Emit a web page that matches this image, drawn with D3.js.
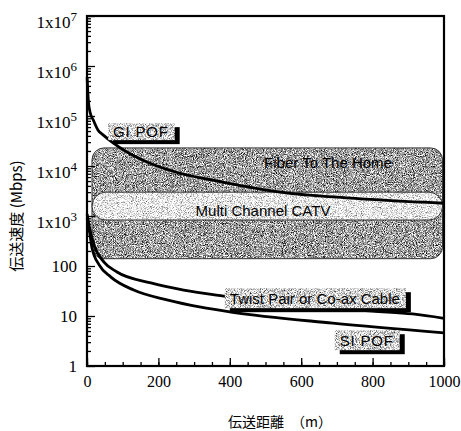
<!DOCTYPE html>
<html><head><meta charset="utf-8">
<script src="https://cdn.jsdelivr.net/npm/d3@7"></script>
<style>
body{margin:0;background:#fff;}
svg{display:block;}
</style></head><body>
<svg id="chart"></svg>
<script>
////////////////////////////
//  values
////////////////////////////
const distanceTicks = [0, 200, 400, 600, 800, 1000];
const speedTicks = [1, 10, 100, 1e3, 1e4, 1e5, 1e6, 1e7];
const speedTickBase = ["1", "10", "100", "1x10", "1x10", "1x10", "1x10", "1x10"];
const speedTickExp = ["", "", "", "3", "4", "5", "6", "7"];

const giPofDist  = [0.3, 3.6, 8.4, 17.6, 31, 45, 73, 112, 168, 250, 352, 540, 727, 1000];
const giPofSpeed = [6e5, 2.1e5, 1.2e5, 8.3e4, 5.2e4, 4.2e4, 2.9e4, 1.9e4, 1.2e4, 7.5e3, 5.2e3, 3.0e3, 2.3e3, 1.8e3];
const twistDist  = [0.3, 5.6, 19.6, 47.6, 84, 179, 271, 383, 600, 800, 912, 1000];
const twistSpeed = [1100, 660, 263, 120, 76, 46, 33, 25, 16.5, 12.5, 11, 9];
const siPofDist  = [0.3, 5.6, 14, 34, 67, 131, 224, 319, 403, 688, 1000];
const siPofSpeed = [900, 575, 229, 105, 60, 33, 21, 15, 12, 7.2, 4.6];

const curveNames = ["GI POF", "Twist Pair or Co-ax Cable", "SI POF"];

const bandNames = ["Fiber To The Home", "Multi Channel CATV"];
const bandFrom = [14, 14];
const bandTo = [996, 996];
const bandLow = [140, 830];
const bandHigh = [23000, 3000];

///////////////////
// layout
///////////////////
var width = 461, height = 431;
var x = d3.scaleLinear().domain([0, 1000]).range([87, 444]);
var y = d3.scaleLog().domain([1, 1e7]).range([366, 16]);
var SERIF = "'Liberation Serif'";
var SANS = "'Liberation Sans'";
var CJK = "'Noto Sans CJK JP'";

var svg = d3.select('#chart')
  .attr('width', width)
  .attr('height', height);

var defs = svg.append('defs');
function grain(id, slope, intercept, freq, seed) {
  var f = defs.append('filter')
    .attr('id', id)
    .attr('x', 0).attr('y', 0).attr('width', 1).attr('height', 1)
    .attr('color-interpolation-filters', 'sRGB');
  f.append('feTurbulence')
    .attr('type', 'fractalNoise')
    .attr('baseFrequency', freq)
    .attr('numOctaves', 3)
    .attr('seed', seed)
    .attr('result', 'n');
  var v = `${slope} 0 0 0 ${intercept} `;
  f.append('feColorMatrix')
    .attr('in', 'n')
    .attr('type', 'matrix')
    .attr('values', v + v + v + '0 0 0 0 1')
    .attr('result', 'g');
  f.append('feComposite')
    .attr('in', 'g').attr('in2', 'SourceGraphic').attr('operator', 'in');
}
grain('grainDark', 2.0, -0.38, 1.1, 4);
grain('grainLight', 1.5, 0.17, 1.2, 7);
grain('grainLabel', 1.7, -0.02, 1.2, 11);

//// bands (application requirements)
var bandStyle = [
  {filter: 'url(#grainDark)', rx: 12},
  {filter: 'url(#grainLight)', rx: null}
];
var bands = svg.append('g').selectAll('g.band')
  .data(bandNames.map((n, i) => ({name: n, from: bandFrom[i], to: bandTo[i], low: bandLow[i], high: bandHigh[i], i: i})))
  .enter().append('g').classed('band', true);

bands.each(function(d) {
  var g = d3.select(this);
  var bx = x(d.from), bw = x(d.to) - x(d.from);
  var by = y(d.high), bh = y(d.low) - y(d.high);
  var rx = bandStyle[d.i].rx === null ? bh / 2 : bandStyle[d.i].rx;
  g.append('rect')
    .attr('x', bx).attr('y', by).attr('width', bw).attr('height', bh)
    .attr('rx', rx).attr('fill', '#888')
    .attr('filter', bandStyle[d.i].filter);
  g.append('rect')
    .attr('x', bx).attr('y', by).attr('width', bw).attr('height', bh)
    .attr('rx', rx).attr('fill', 'none')
    .attr('stroke', '#333').attr('stroke-width', 1);
});

svg.append('text')
  .attr('x', 328).attr('y', 168)
  .attr('text-anchor', 'middle')
  .style('font-family', SANS).style('font-size', '15px')
  .text(bandNames[0]);
svg.append('text')
  .attr('x', 263).attr('y', 216)
  .attr('text-anchor', 'middle')
  .style('font-family', SANS).style('font-size', '15px')
  .text(bandNames[1]);

//// curves
var line = d3.line()
  .x(d => x(d[0]))
  .y(d => y(d[1]))
  .curve(d3.curveMonotoneX);

var series = [
  d3.zip(giPofDist, giPofSpeed),
  d3.zip(twistDist, twistSpeed),
  d3.zip(siPofDist, siPofSpeed)
];
svg.append('g').selectAll('path')
  .data(series)
  .enter().append('path')
    .attr('d', line)
    .attr('fill', 'none')
    .attr('stroke', '#000')
    .attr('stroke-width', 2.8);

//// axes
var xAxis = svg.append('g').attr('transform', 'translate(0,366)');
xAxis.call(d3.axisBottom(x).tickValues(d3.range(0, 1001, 50)).tickSize(-4).tickFormat(''));
xAxis.append('g').call(d3.axisBottom(x).tickValues(distanceTicks).tickSize(-8).tickPadding(10).tickFormat(d3.format('d')));
xAxis.selectAll('.domain').remove();
xAxis.selectAll('text')
  .style('font-family', SERIF)
  .style('font-size', '16px').attr('fill', '#000');
xAxis.selectAll('line').attr('stroke', '#000').attr('stroke-width', 1.3);

var minor = [];
d3.range(0, 7).forEach(k => d3.range(2, 10).forEach(m => minor.push(m * Math.pow(10, k))));
var yAxis = svg.append('g').attr('transform', 'translate(87,0)');
yAxis.call(d3.axisLeft(y).tickValues(minor).tickSize(-4).tickFormat(''));
var yMajor = yAxis.append('g').call(d3.axisLeft(y).tickValues(speedTicks).tickSize(-8).tickPadding(10).tickFormat(''));
yAxis.selectAll('.domain').remove();
yAxis.selectAll('line').attr('stroke', '#000').attr('stroke-width', 1.3);
yMajor.selectAll('.tick text')
  .style('font-family', SERIF)
  .style('font-size', '17px').attr('fill', '#000')
  .attr('dy', (d, i) => speedTickExp[i] ? '0.7em' : '0.32em')
  .each(function(d, i) {
    var t = d3.select(this);
    t.append('tspan').text(speedTickBase[i]);
    if (speedTickExp[i]) {
      t.append('tspan').attr('dy', -7).style('font-size', '13px').text(speedTickExp[i]);
    }
  });

//// frame
svg.append('rect')
  .attr('x', x(0)).attr('y', y(1e7))
  .attr('width', x(1000) - x(0)).attr('height', y(1) - y(1e7))
  .attr('fill', 'none').attr('stroke', '#000').attr('stroke-width', 2.2);

//// curve labels
var labelAt = [[59, 7.2e4, 17], [386, 36, 20], [694, 5.2, 20]];
labelAt.forEach(function(p, i) {
  var g = svg.append('g').attr('transform', `translate(${x(p[0])},${y(p[1])})`);
  var shadow = g.append('rect').attr('fill', '#000');
  var box = g.append('rect').attr('fill', '#888').attr('filter', 'url(#grainLabel)');
  var t = g.append('text')
    .attr('x', 5).attr('y', p[2] / 2)
    .attr('dy', '0.36em')
    .style('font-family', SANS).style('font-size', '15px')
    .attr('letter-spacing', i === 1 ? 0 : 0.8)
    .text(curveNames[i]);
  var w = t.node().getComputedTextLength() + 11;
  box.attr('width', w).attr('height', p[2]);
  shadow.attr('x', 5).attr('y', 4).attr('width', w).attr('height', p[2]);
});

//// axis titles
svg.append('text')
  .attr('transform', 'translate(22,216) rotate(-90)')
  .attr('text-anchor', 'middle')
  .style('font-family', CJK).style('font-size', '15px')
  .text('伝送速度 (Mbps)');
svg.append('text')
  .attr('x', 228).attr('y', 427)
  .style('font-family', CJK).style('font-size', '14px')
  .text('伝送距離　（m）');
</script>
</body></html>
